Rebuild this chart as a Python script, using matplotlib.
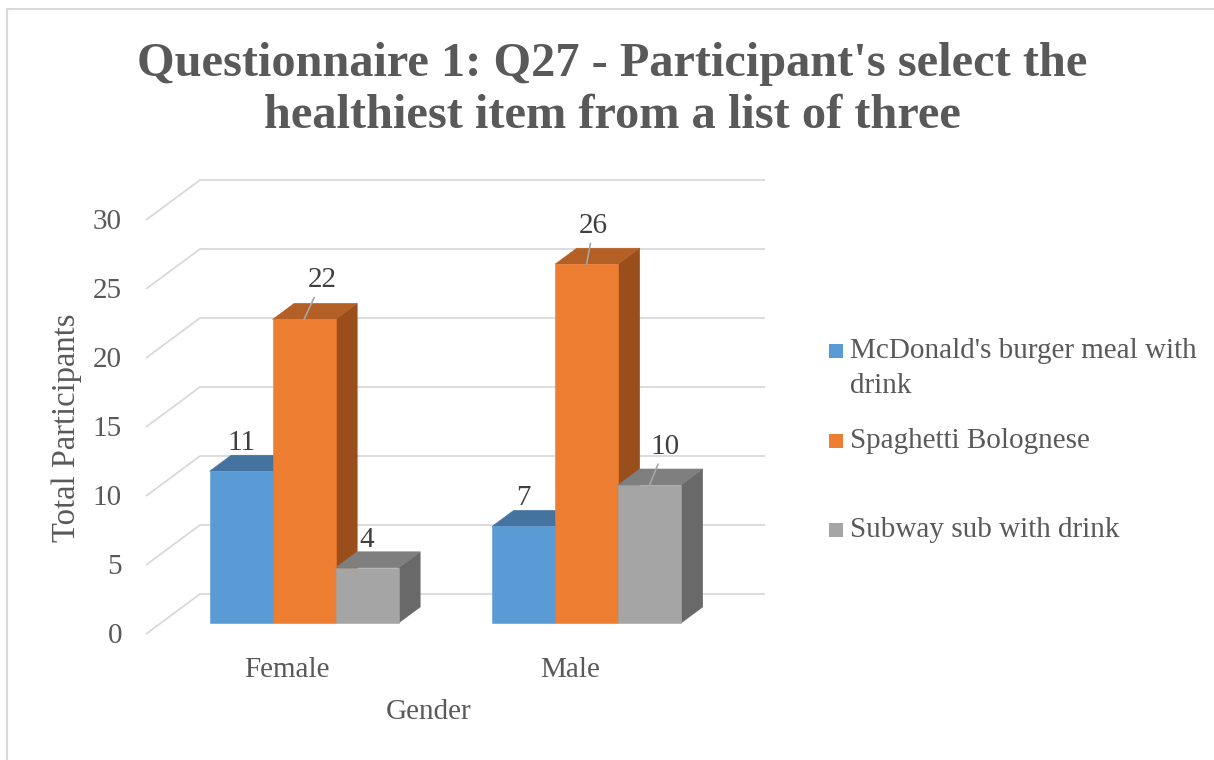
import matplotlib.pyplot as plt
from matplotlib.patches import Polygon, Rectangle
from matplotlib.lines import Line2D

# data
categories = ["Female", "Male"]
series_names = ["McDonald's burger meal with\ndrink", "Spaghetti Bolognese", "Subway sub with drink"]
mcdonalds = [11, 7]
spaghetti = [22, 26]
subway = [4, 10]
y_ticks = [0, 5, 10, 15, 20, 25, 30]

values = [mcdonalds, spaghetti, subway]
front_colors = ["#5B9BD5", "#ED7D31", "#A5A5A5"]
top_colors = ["#44739F", "#B45F25", "#7F7F7F"]
side_colors = ["#3E6A93", "#9A4E1C", "#696969"]
text_color = "#595959"
grid_color = "#D9D9D9"

plt.rcParams['font.family'] = ['Liberation Serif', 'DejaVu Serif']

W, H = 1214, 760
fig = plt.figure(figsize=(W / 100, H / 100), dpi=100)

# back wall layout in pixels: one category = 282.5 px, one unit = 13.8 px
X0, PX_U, Y0, PX_V = 200, 282.5, 594, 13.8
left, right, top, bottom = 100, 820, 150, 665
ax = fig.add_axes([left / W, 1 - bottom / H, (right - left) / W, (bottom - top) / H])
ax.set_xlim((left - X0) / PX_U, (right - X0) / PX_U)
ax.set_ylim((Y0 - bottom) / PX_V, (Y0 - top) / PX_V)
ax.axis('off')

# oblique depth: front edge of the floor relative to the back wall
DEPTH_U = -54 / PX_U
DEPTH_V = -40 / PX_V


def proj(u, v, z):
    """z=1 is the back wall, z=0 the front edge."""
    return (u + (1 - z) * DEPTH_U, v + (1 - z) * DEPTH_V)


# gridlines on back wall and side
n_cat = len(categories)
for t in y_ticks:
    p_back0 = proj(0, t, 1)
    p_back1 = proj(n_cat, t, 1)
    p_front = proj(0, t, 0)
    ax.plot([p_front[0], p_back0[0], p_back1[0]], [p_front[1], p_back0[1], p_back1[1]],
            color=grid_color, lw=1.3, zorder=1, solid_capstyle='butt')
    ax.annotate(str(t), xy=p_front, xytext=(-24, -2), textcoords='offset pixels',
                ha='right', va='center', fontsize=21, color=text_color)

# bars
bar_w = 0.223
z_front, z_back = 0.275, 0.675
label_shift = {(0, 1): (18, 39), (1, 1): (7, 38), (1, 2): (15.5, 38)}

for i in range(n_cat):
    for j, series in enumerate(values):
        h = series[i]
        u0 = i + 0.507 + (j - 1.5) * bar_w
        u1 = u0 + bar_w
        side = [proj(u1, 0, z_front), proj(u1, 0, z_back), proj(u1, h, z_back), proj(u1, h, z_front)]
        topf = [proj(u0, h, z_front), proj(u1, h, z_front), proj(u1, h, z_back), proj(u0, h, z_back)]
        front = [proj(u0, 0, z_front), proj(u1, 0, z_front), proj(u1, h, z_front), proj(u0, h, z_front)]
        for pts, col in [(side, side_colors[j]), (topf, top_colors[j]), (front, front_colors[j])]:
            ax.add_patch(Polygon(pts, closed=True, facecolor=col, edgecolor=col, lw=0.4, zorder=2))

        anchor = proj((u0 + u1) / 2, h, z_front)
        if (i, j) in label_shift:
            ax.annotate(str(h), xy=anchor, xytext=label_shift[(i, j)], textcoords='offset pixels',
                        ha='center', va='center', fontsize=21, color="#404040", zorder=4,
                        arrowprops=dict(arrowstyle='-', color="#A6A6A6", lw=1.2,
                                        shrinkA=1, shrinkB=0))
        else:
            ax.annotate(str(h), xy=anchor, xytext=(0, 28), textcoords='offset pixels',
                        ha='center', va='center', fontsize=21, color="#404040", zorder=4)

# category labels and axis titles
for i, cat in enumerate(categories):
    ax.annotate(cat, xy=proj(i + 0.5, 0, 0), xytext=(0, -36), textcoords='offset pixels',
                ha='center', va='center', fontsize=21, color=text_color)
ax.annotate("Gender", xy=proj(n_cat / 2, 0, 0), xytext=(0, -78), textcoords='offset pixels',
            ha='center', va='center', fontsize=21, color=text_color)
fig.text(67 / W, 1 - 428 / H, "Total Participants", rotation=90, ha='center', va='center',
         fontsize=23.5, color=text_color)

# title
fig.text(612 / W, 1 - 76 / H, "Questionnaire 1: Q27 - Participant's select the",
         ha='center', va='baseline', fontsize=34.8, fontweight='bold', color=text_color)
fig.text(612 / W, 1 - 128 / H, "healthiest item from a list of three",
         ha='center', va='baseline', fontsize=34.8, fontweight='bold', color=text_color)

# legend
legend_base = [358, 448, 537]
for j, name in enumerate(series_names):
    b = legend_base[j]
    fig.add_artist(Rectangle((829 / W, 1 - b / H), 14 / W, 14 / H, transform=fig.transFigure,
                             facecolor=front_colors[j], edgecolor='none'))
    lines = name.split("\n")
    for k, line in enumerate(lines):
        fig.text(850 / W, 1 - (b + 35 * k) / H, line, ha='left', va='baseline',
                 fontsize=21, color=text_color)

# chart frame
fig.add_artist(Line2D([7 / W, 1], [1 - 9 / H, 1 - 9 / H], transform=fig.transFigure,
                      color=grid_color, lw=1.5))
fig.add_artist(Line2D([7 / W, 7 / W], [0, 1 - 9 / H], transform=fig.transFigure,
                      color=grid_color, lw=1.5))

fig.savefig("out.png", dpi=100)
